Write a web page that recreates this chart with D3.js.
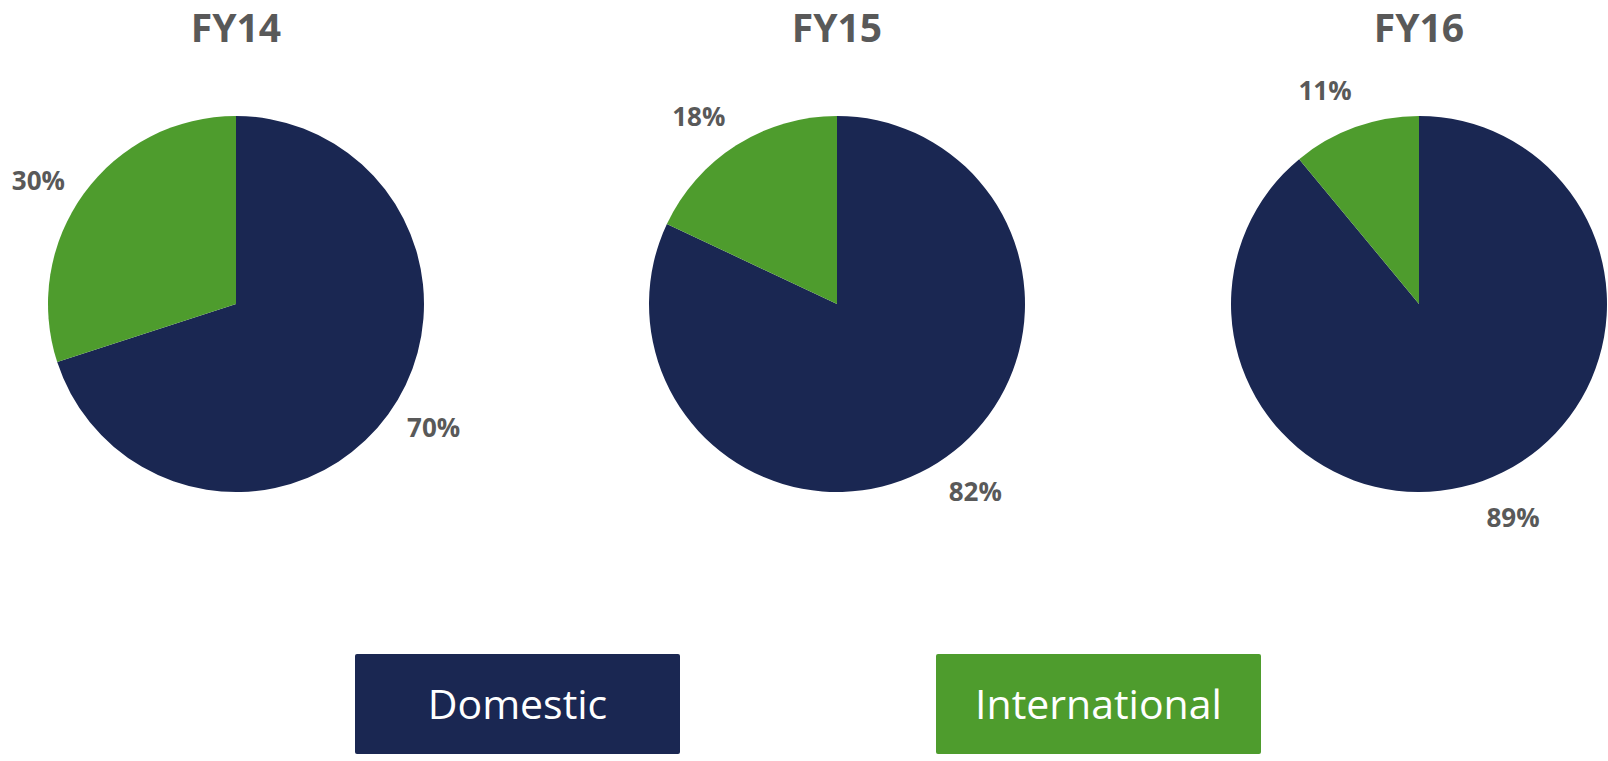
<!doctype html>
<html lang="en">

<head>
  <meta charset="utf-8">
  <title>Domestic vs International - D3</title>
  <style>
    html, body { margin: 0; padding: 0; background: #fff; }
    svg { display: block; font-family: "Open Sans", "Noto Sans", sans-serif; }
  </style>
</head>

<body>
  <svg></svg>

  <script src="https://cdn.jsdelivr.net/npm/d3@7/dist/d3.min.js"></script>
  <script>
    // data
    var years = ['FY14', 'FY15', 'FY16'];
    var segments = ['Domestic', 'International'];
    var domestic = [70, 82, 89];
    var international = [30, 18, 11];

    // canvas
    var width = 1608;
    var height = 761;
    var radius = 188;
    var colors = { Domestic: '#1a2752', International: '#4e9c2d' };
    var textColor = '#595959';

    var svg = d3.select('svg')
      .attr('width', width)
      .attr('height', height);

    // pie centres
    var xPos = d3.scaleOrdinal().domain(years).range([236, 837, 1419]);
    var cy = 304;

    // Domestic clockwise from 12 o'clock, International takes the rest
    var pie = d3.pie()
      .sort(null)
      .value(function (d) { return d.value; })
      .startAngle(0)
      .endAngle(2 * Math.PI);

    var arc = d3.arc().innerRadius(0).outerRadius(radius);
    var labelR = radius + 45;
    var shift = -4 * Math.PI / 180;

    years.forEach(function (year, i) {
      var rows = [
        { key: 'Domestic', value: domestic[i] },
        { key: 'International', value: international[i] }
      ];

      var g = svg.append('g')
        .attr('transform', 'translate(' + xPos(year) + ',' + cy + ')');

      // title
      g.append('text')
        .attr('x', 0)
        .attr('y', 42 - cy)
        .attr('text-anchor', 'middle')
        .attr('font-size', 39)
        .attr('font-weight', 700)
        .attr('fill', textColor)
        .text(year);

      var arcs = pie(rows);

      g.selectAll('path').data(arcs).enter()
        .append('path')
        .attr('d', arc)
        .attr('fill', function (d) { return colors[d.data.key]; });

      // percentage labels outside the slice
      g.selectAll('text.lbl').data(arcs).enter()
        .append('text')
        .attr('class', 'lbl')
        .attr('x', function (d) {
          var a = (d.startAngle + d.endAngle) / 2 + shift;
          return Math.sin(a) * labelR;
        })
        .attr('y', function (d) {
          var a = (d.startAngle + d.endAngle) / 2 + shift;
          return -Math.cos(a) * labelR;
        })
        .attr('dy', '0.36em')
        .attr('text-anchor', 'middle')
        .attr('font-size', 26)
        .attr('font-weight', 700)
        .attr('fill', textColor)
        .text(function (d) { return d.data.value + '%'; });
    });

    // legend boxes
    var legX = d3.scaleOrdinal().domain(segments).range([355, 936]);
    var boxW = 325;
    var boxH = 100;
    var legY = 654;

    var leg = svg.selectAll('g.legend').data(segments).enter()
      .append('g')
      .attr('class', 'legend')
      .attr('transform', function (d) { return 'translate(' + legX(d) + ',' + legY + ')'; });

    leg.append('rect')
      .attr('width', boxW)
      .attr('height', boxH)
      .attr('rx', 2)
      .attr('fill', function (d) { return colors[d]; });

    leg.append('text')
      .attr('x', boxW / 2)
      .attr('y', boxH / 2)
      .attr('dy', '0.36em')
      .attr('text-anchor', 'middle')
      .attr('font-size', 41)
      .attr('fill', '#fff')
      .text(function (d) { return d; });
  </script>
</body>

</html>
